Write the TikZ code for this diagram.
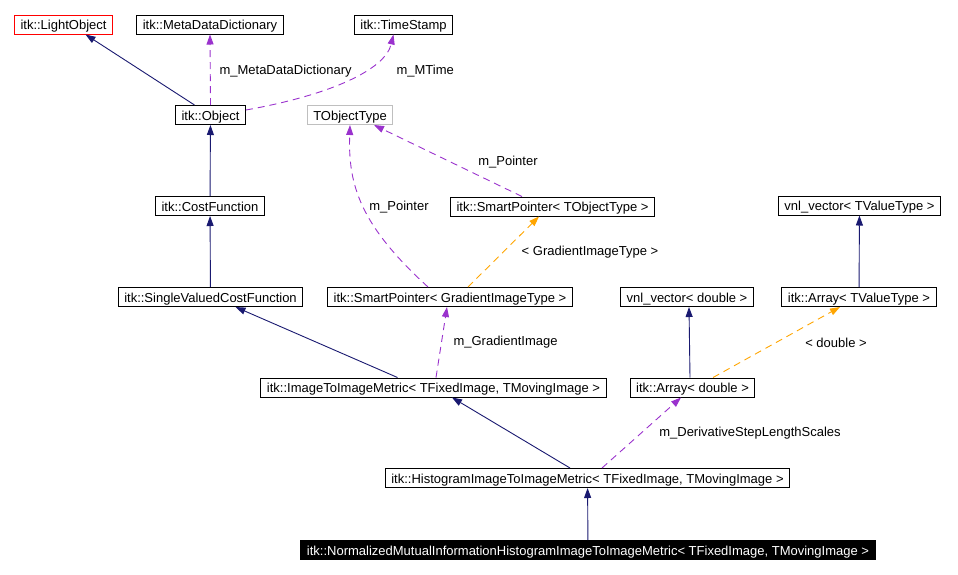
\documentclass[tikz,border=0pt]{standalone}
\usepackage{fontspec}
\setmainfont{Liberation Sans}
\usetikzlibrary{arrows.meta}
\definecolor{cgblue}{HTML}{191970}
\definecolor{cgpurple}{HTML}{9A32CD}
\definecolor{cgorange}{HTML}{FFA500}
\definecolor{cgred}{HTML}{FF0000}
\definecolor{cggray}{HTML}{BFBFBF}
\tikzset{
  cg text/.style={font=\fontsize{13}{15}\selectfont, text=black},
  cg class/.style={draw=black, line width=1pt, fill=white, minimum height=19pt,
    text height=10pt, text depth=0pt,
    inner xsep=6pt, inner ysep=0pt, font=\fontsize{13}{15}\selectfont},
  cg root/.style={cg class, draw=cgred},
  cg tparam/.style={cg class, draw=cggray},
  cg self/.style={cg class, fill=black, text=white},
  cg inherit/.style={-{Triangle[length=10pt,width=7pt]}, draw=cgblue, line width=0.9pt},
  cg use/.style={-{Triangle[length=10pt,width=7pt]}, draw=cgpurple, line width=0.9pt,
    dash pattern=on 7pt off 5pt},
  cg tmpl/.style={-{Triangle[length=10pt,width=7pt]}, draw=cgorange, line width=0.9pt,
    dash pattern=on 7pt off 5pt},
  cg label/.style={font=\fontsize{13}{15}\selectfont, text=black}
}

\begin{document}
\begin{tikzpicture}[cg text, x=1pt, y=-1pt]
  \useasboundingbox (0,0) rectangle (958,574);
  % classes
  \node[cg root] (lightobj) at (63.5,24.5) {itk::LightObject};
  \node[cg class] (mddict) at (210,24.5) {itk::MetaDataDictionary};
  \node[cg class] (tstamp) at (403.5,24.5) {itk::TimeStamp};
  \node[cg class] (object) at (210.5,115) {itk::Object};
  \node[cg tparam] (tobjtype) at (350,115) {TObjectType};
  \node[cg class] (costfn) at (210,206) {itk::CostFunction};
  \node[cg class] (sptrobj) at (552.5,206.5) {itk::SmartPointer< TObjectType >};
  \node[cg class] (vnlvt) at (859.5,205.5) {vnl\_vector< TValueType >};
  \node[cg class] (svcf) at (210.5,297) {itk::SingleValuedCostFunction};
  \node[cg class] (sptrgrad) at (450,297) {itk::SmartPointer< GradientImageType >};
  \node[cg class] (vnldbl) at (687,297) {vnl\_vector< double >};
  \node[cg class] (arrvt) at (859,297) {itk::Array< TValueType >};
  \node[cg class] (itim) at (433.5,387.5) {itk::ImageToImageMetric< TFixedImage, TMovingImage >};
  \node[cg class] (arrdbl) at (692.5,387.5) {itk::Array< double >};
  \node[cg class] (hist) at (587.5,478) {itk::HistogramImageToImageMetric< TFixedImage, TMovingImage >};
  \node[cg self] (nmi) at (588,550) {itk::NormalizedMutualInformationHistogramImageToImageMetric< TFixedImage, TMovingImage >};

  % inheritance
  \foreach \a/\b in {costfn/object, svcf/costfn, nmi/hist, arrvt/vnlvt} {
    \draw[cg inherit] (\a) -- (\b);
  }
  \draw[cg inherit] ([xshift=-16pt]object.north) -- ([xshift=22pt]lightobj.south);
  \draw[cg inherit] ([xshift=-36pt]itim.north) -- ([xshift=25pt]svcf.south);
  \draw[cg inherit] ([xshift=-17.5pt]hist.north) -- ([xshift=18.5pt]itim.south);
  \draw[cg inherit] ([xshift=-2.5pt]arrdbl.north) -- ([xshift=2pt]vnldbl.south);

  % members
  \draw[cg use] (object.north) -- (mddict.south);
  \node[cg label, anchor=west] (lmddict) at (216,71) {m\_MetaDataDictionary};
  \draw[cg use] ([yshift=5pt]object.east) .. controls (330,95) and (385,70) .. ([xshift=-10pt]tstamp.south);
  \node[cg label, anchor=west] (lmtime) at (393,71) {m\_MTime};
  \draw[cg use] ([xshift=-30.5pt]sptrobj.north) -- ([xshift=24pt]tobjtype.south);
  \node[cg label] (lptrobj) at (508,162) {m\_Pointer};
  \draw[cg use] ([xshift=-22pt]sptrgrad.north) .. controls (360,225) and (348,185) .. (tobjtype.south);
  \node[cg label] (lptrgrad) at (399,207) {m\_Pointer};
  \draw[cg use] ([xshift=2.5pt]itim.north) -- ([xshift=-3pt]sptrgrad.south);
  \node[cg label, anchor=west] (lgrad) at (450,342) {m\_GradientImage};
  \draw[cg use] ([xshift=14.5pt]hist.north) -- ([xshift=-11.5pt]arrdbl.south);
  \node[cg label] (lscales) at (750,433) {m\_DerivativeStepLengthScales};

  % template instances
  \draw[cg tmpl] ([xshift=18pt]sptrgrad.north) -- ([xshift=-13.5pt]sptrobj.south);
  \node[cg label] (lgradtype) at (590,252) {< GradientImageType >};
  \draw[cg tmpl] ([xshift=20.5pt]arrdbl.north) -- ([xshift=-19pt]arrvt.south);
  \node[cg label] (ldouble) at (836,343) {< double >};
\end{tikzpicture}
\end{document}
